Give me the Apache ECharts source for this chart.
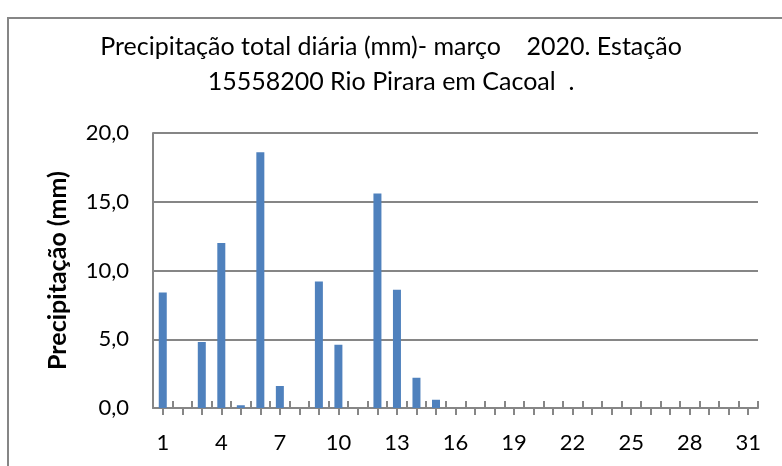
<!DOCTYPE html>
<html>
<head>
<meta charset="utf-8">
<script src="https://cdn.jsdelivr.net/npm/echarts@6/dist/echarts.min.js"></script>
<style>
  html, body { margin: 0; padding: 0; background: #fff; }
  #chart { width: 782px; height: 466px; }
</style>
</head>
<body>
<div id="chart"></div>
<script>
// dias de março
var days = [];
for (var d = 1; d <= 31; d++) days.push(String(d));
// precipitação diária (mm)
var rain = [8.4, 0, 4.8, 12.0, 0.2, 18.6, 1.6, 0, 9.2, 4.6, 0, 15.6, 8.6, 2.2, 0.6,
            0, 0, 0, 0, 0, 0, 0, 0, 0, 0, 0, 0, 0, 0, 0, 0];
var titleText = 'Precipitação total diária (mm)- março    2020. Estação\n15558200 Rio Pirara em Cacoal  .';
var yName = 'Precipitação (mm)';

var font = 'Lato, "Open Sans", sans-serif';
var gray = '#868686';

var chart = echarts.init(document.getElementById('chart'));
var option = {
  animation: false,
  textStyle: { fontFamily: font },
  // moldura do gráfico (só esquerda e topo visíveis)
  graphic: [{
    type: 'rect',
    shape: { x: 8, y: 18, width: 900, height: 600 },
    style: { fill: 'none', stroke: gray, lineWidth: 2 },
    z: -1
  }],
  title: {
    text: titleText,
    left: 'center',
    top: 29,
    padding: [0, 0, 0, 14],
    textStyle: { fontFamily: font, fontSize: 25, fontWeight: 'normal', color: '#000', lineHeight: 35 }
  },
  grid: { left: 153, right: 24, top: 133, bottom: 58 },
  xAxis: [{
    type: 'category',
    data: days,
    axisLine: { show: true, lineStyle: { color: gray, width: 2 } },
    // marcas externas no centro de cada dia
    axisTick: { show: true, alignWithLabel: true, interval: 0, length: 7, lineStyle: { color: gray, width: 2 } },
    axisLabel: { interval: 2, fontSize: 22, color: '#000', margin: 24, fontFamily: font }
  }, {
    // marcas internas entre os dias
    type: 'category',
    data: days,
    position: 'bottom',
    axisLine: { show: false },
    axisTick: { show: true, inside: true, interval: 0, length: 7, lineStyle: { color: gray, width: 2 } },
    axisLabel: { show: false }
  }],
  yAxis: {
    type: 'value',
    min: 0, max: 20, interval: 5,
    name: yName,
    nameLocation: 'middle',
    nameGap: 83,
    nameTextStyle: { fontSize: 25, fontWeight: 'bold', color: '#000', fontFamily: font },
    axisLine: { show: true, lineStyle: { color: gray, width: 2 } },
    axisTick: { show: false },
    splitLine: { lineStyle: { color: gray, width: 2 } },
    axisLabel: {
      fontSize: 22, color: '#000', margin: 24, fontFamily: font,
      formatter: function (v) { return v.toFixed(1).replace('.', ','); }
    }
  },
  series: [{
    type: 'bar',
    data: rain,
    barWidth: 8,
    itemStyle: { color: '#4f81bd' }
  }]
};
chart.setOption(option);
</script>
</body>
</html>
